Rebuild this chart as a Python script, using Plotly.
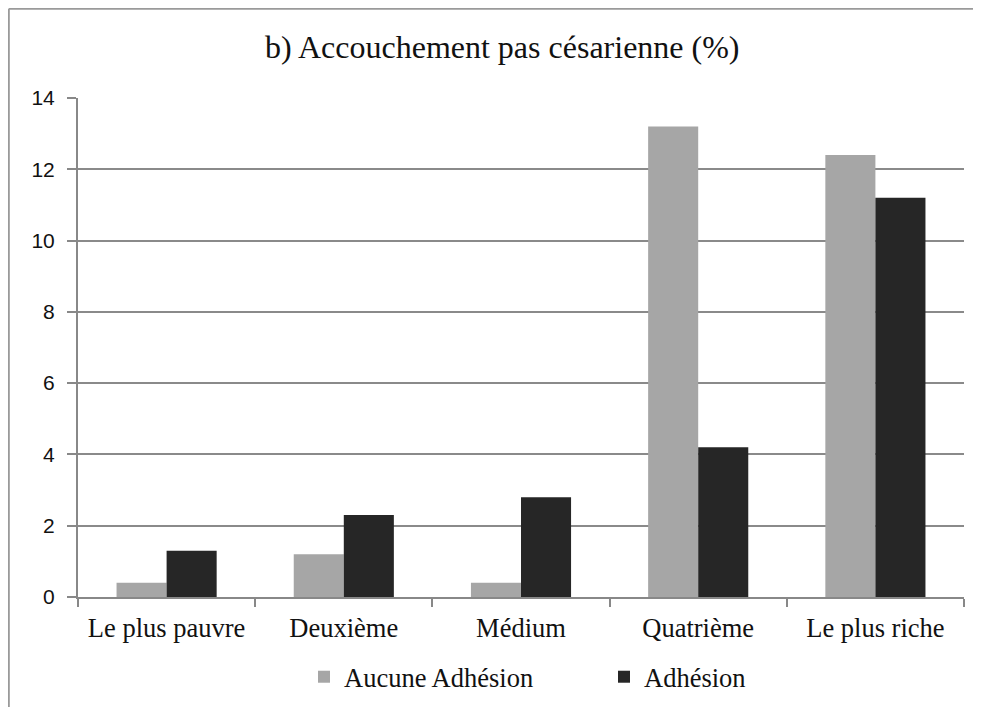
import plotly.graph_objects as go

categories = ["Le plus pauvre", "Deuxième", "Médium", "Quatrième", "Le plus riche"]
aucune_adhesion = [0.4, 1.2, 0.4, 13.2, 12.4]
adhesion = [1.3, 2.3, 2.8, 4.2, 11.2]
y_ticks = [0, 2, 4, 6, 8, 10, 12, 14]

serif = "Liberation Serif, Times New Roman, serif"
sans = "Liberation Sans, Arial, sans-serif"

W, H = 973, 699
L, R, T, B = 70, 17, 90, 110
PW, PH = W - L - R, H - T - B

fig = go.Figure()
fig.add_trace(go.Bar(x=categories, y=aucune_adhesion, name="Aucune Adhésion",
                     marker=dict(color="#A6A6A6", line=dict(width=0))))
fig.add_trace(go.Bar(x=categories, y=adhesion, name="Adhésion",
                     marker=dict(color="#262626", line=dict(width=0))))

frame_x = (0.8 - L) / PW
frame_y = 1 + (T - 0.8) / PH

fig.update_layout(
    template="none",
    width=W, height=H,
    margin=dict(l=L, r=R, t=T, b=B, autoexpand=False),
    paper_bgcolor="white", plot_bgcolor="white",
    barmode="group", bargap=0.435, bargroupgap=0,
    title=dict(text="b) Accouchement pas césarienne (%)", x=0.508, xanchor="center",
               y=1 - 39 / H, yanchor="middle",
               font=dict(family=serif, size=32, color="#111")),
    showlegend=True,
    legend=dict(orientation="h", x=(296 - L) / PW, xanchor="left",
                y=-80 / PH, yanchor="middle", bgcolor="rgba(0,0,0,0)",
                font=dict(family=serif, size=26.5, color="#111"),
                traceorder="normal", entrywidth=255, itemwidth=30),
    xaxis=dict(type="category", showline=True, linecolor="#888", linewidth=2,
               ticks="outside", tickson="boundaries", ticklen=8, tickcolor="#888", tickwidth=1.5,
               tickfont=dict(family=serif, size=26.5, color="#111"),
               ticklabelstandoff=6, showgrid=False, automargin=False),
    yaxis=dict(range=[0, 14], tickvals=y_ticks, showline=True, linecolor="#888", linewidth=2,
               ticks="outside", ticklen=9, tickcolor="#888", tickwidth=1.5,
               showgrid=True, gridcolor="#8A8A8A", gridwidth=1.5, zeroline=False,
               tickfont=dict(family=sans, size=21, color="#111"),
               ticklabelstandoff=8, automargin=False),
    shapes=[
        dict(type="line", xref="paper", yref="paper", x0=frame_x, x1=frame_x,
             y0=-0.3, y1=frame_y, line=dict(color="#9A9A9A", width=2), layer="below"),
        dict(type="line", xref="paper", yref="paper", x0=frame_x, x1=1.3,
             y0=frame_y, y1=frame_y, line=dict(color="#9A9A9A", width=2), layer="below"),
    ],
)

fig.write_html("out.html")
